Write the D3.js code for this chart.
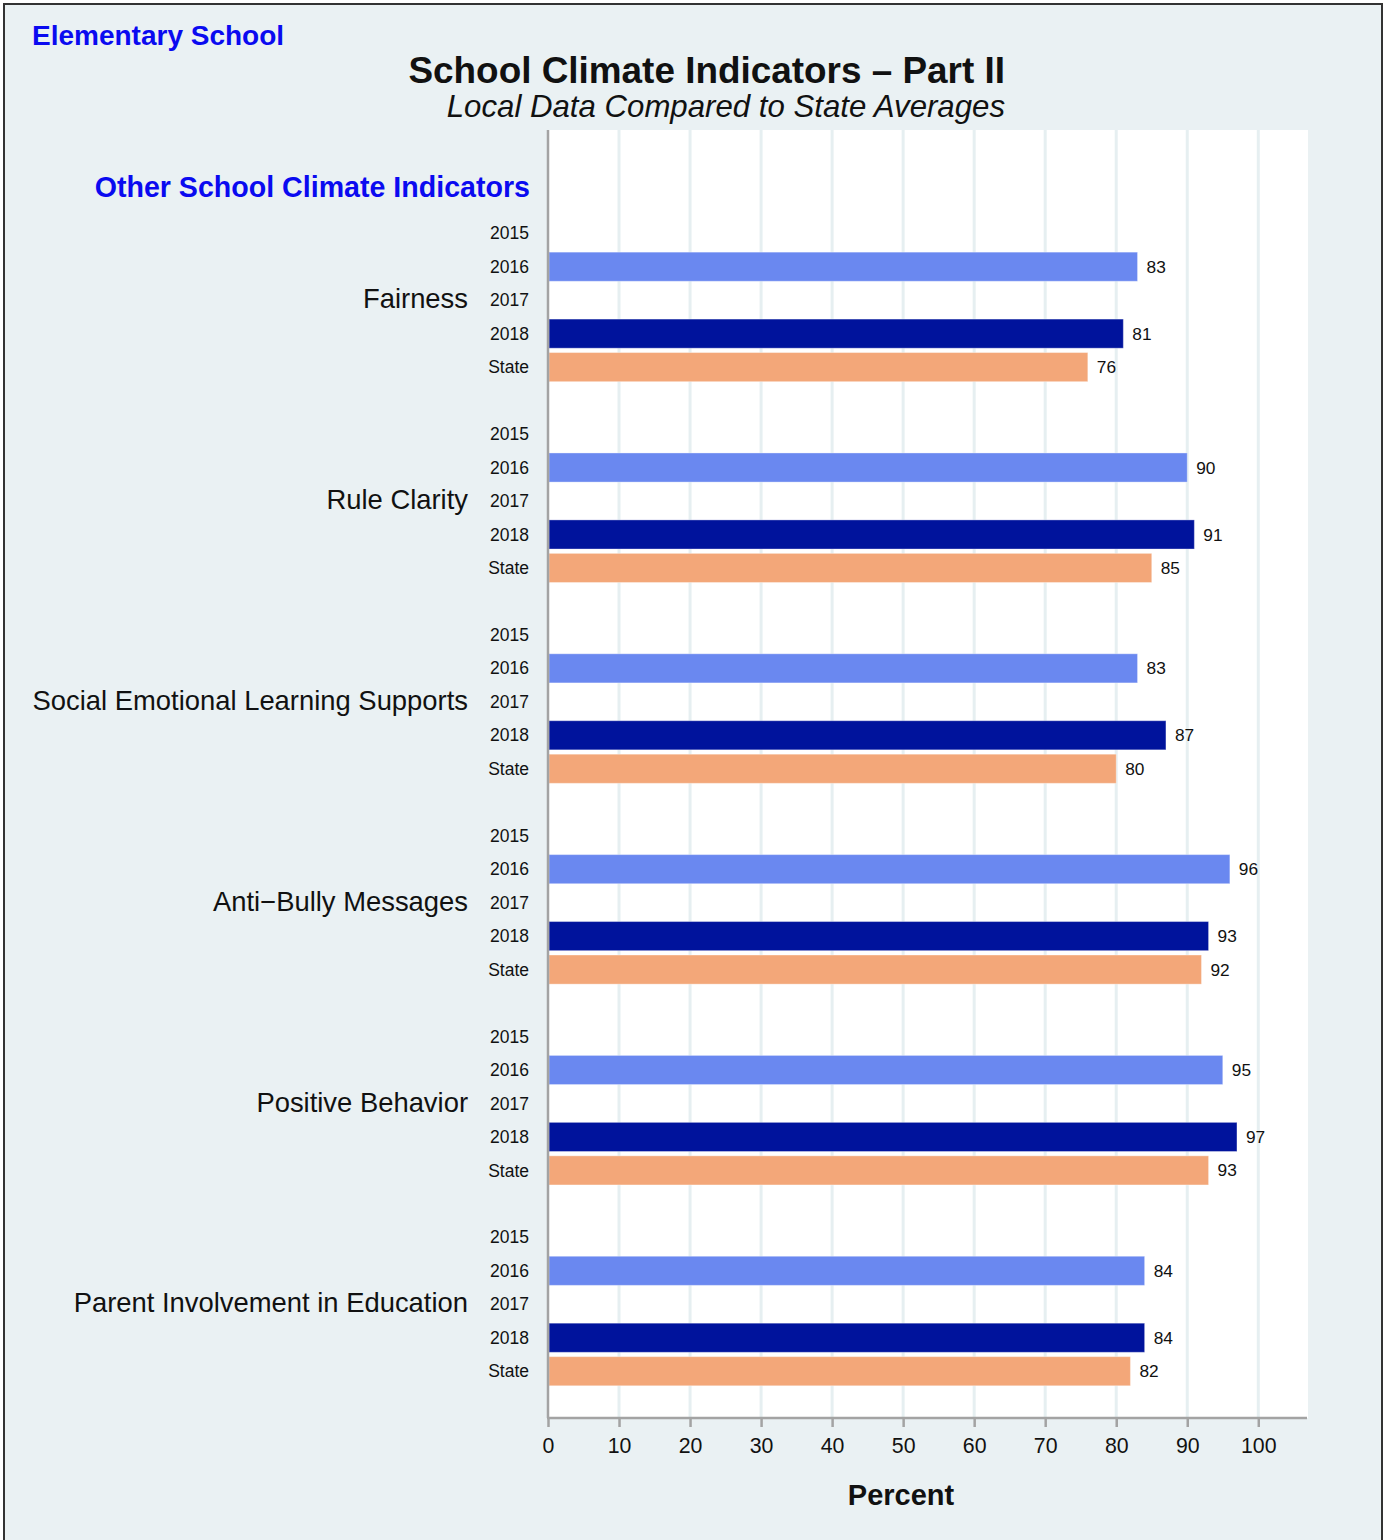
<!DOCTYPE html>
<html>
<head>
<meta charset="utf-8" />
<script src="https://d3js.org/d3.v7.min.js"></script>
<style>
  body { margin: 0; background: #ffffff; }
  svg text { font-family: "Liberation Sans", Arial, Helvetica, sans-serif; }
</style>
</head>
<body>
<div id="chart"></div>
<script>
// data
var indicators = ["Fairness", "Rule Clarity", "Social Emotional Learning Supports",
                  "Anti\u2212Bully Messages", "Positive Behavior", "Parent Involvement in Education"]
var rowLabels = ["2015", "2016", "2017", "2018", "State"]
var values2015 = [null, null, null, null, null, null]
var values2016 = [83, 90, 83, 96, 95, 84]
var values2017 = [null, null, null, null, null, null]
var values2018 = [81, 91, 87, 93, 97, 84]
var valuesState = [76, 85, 80, 92, 93, 82]
var xTicks = [0, 10, 20, 30, 40, 50, 60, 70, 80, 90, 100]

var colors = {"2015": "#9fb3f5", "2016": "#6a88f0", "2017": "#3350d0", "2018": "#00139c", "State": "#f3a779"}

var W = 1387, H = 1540
var plot = {left: 548, right: 1308, top: 130, bottom: 1418}

var svg = d3.select("#chart").append("svg")
  .attr("width", W).attr("height", H)

// background + frame
svg.append("rect")
  .attr("x", 4).attr("y", 4).attr("width", 1378).attr("height", H + 10)
  .attr("fill", "#eaf1f3").attr("stroke", "#333").attr("stroke-width", 2)

svg.append("rect")
  .attr("x", plot.left).attr("y", plot.top)
  .attr("width", plot.right - plot.left).attr("height", plot.bottom - plot.top)
  .attr("fill", "#ffffff")

// build rows: 5 labelled slots + 1 blank per indicator
var slots = []
var rows = []
var series = [values2015, values2016, values2017, values2018, valuesState]
indicators.forEach(function(ind, g) {
  rowLabels.forEach(function(r, k) {
    var key = g + "_" + r
    slots.push(key)
    rows.push({key: key, group: g, label: r, value: series[k][g]})
  })
  slots.push(g + "_gap")
})

var x = d3.scaleLinear()
  .domain([0, 107])
  .range([plot.left, plot.right])

var y = d3.scaleBand()
  .domain(slots)
  .range([216.5, 216.5 + 33.47 * slots.length])
  .paddingInner(0.13)
  .paddingOuter(0.065)

// grid
svg.append("g")
  .selectAll("line")
  .data(xTicks.slice(1))
  .enter().append("line")
  .attr("x1", function(d) { return x(d) }).attr("x2", function(d) { return x(d) })
  .attr("y1", plot.top).attr("y2", plot.bottom)
  .attr("stroke", "#e6eff1").attr("stroke-width", 3)

// bars
var bars = rows.filter(function(d) { return d.value != null })
svg.append("g")
  .selectAll("rect")
  .data(bars)
  .enter().append("rect")
  .attr("x", x(0) + 1)
  .attr("y", function(d) { return y(d.key) })
  .attr("width", function(d) { return x(d.value) - x(0) - 1 })
  .attr("height", y.bandwidth())
  .attr("fill", function(d) { return colors[d.label] })
  .attr("stroke", "rgba(255,255,255,0.35)")
  .attr("stroke-width", 1)

svg.append("g")
  .selectAll("text")
  .data(bars)
  .enter().append("text")
  .attr("x", function(d) { return x(d.value) + 9 })
  .attr("y", function(d) { return y(d.key) + y.bandwidth() / 2 })
  .attr("dy", "0.35em")
  .style("font-size", "17.3px")
  .style("fill", "#111")
  .text(function(d) { return d.value })

// row labels (years)
svg.append("g")
  .selectAll("text")
  .data(rows)
  .enter().append("text")
  .attr("x", 529)
  .attr("y", function(d) { return y(d.key) + y.bandwidth() / 2 })
  .attr("dy", "0.35em")
  .attr("text-anchor", "end")
  .style("font-size", "17.5px")
  .style("fill", "#111")
  .text(function(d) { return d.label })

// indicator labels, centred on the 2017 row
svg.append("g")
  .selectAll("text")
  .data(indicators)
  .enter().append("text")
  .attr("x", 468)
  .attr("y", function(d, i) { return y(i + "_2017") + y.bandwidth() / 2 })
  .attr("dy", "0.3em")
  .attr("text-anchor", "end")
  .style("font-size", "27.4px")
  .style("fill", "#111")
  .text(function(d) { return d })

// axes
var axisColor = "#a3a3a3"
svg.append("line")
  .attr("x1", plot.left).attr("x2", plot.left)
  .attr("y1", plot.top).attr("y2", plot.bottom)
  .attr("stroke", axisColor).attr("stroke-width", 2.5)

var xAxis = svg.append("g")
  .attr("transform", "translate(0," + plot.bottom + ")")
  .call(d3.axisBottom(x).tickValues(xTicks).tickSize(9).tickPadding(11))
xAxis.select(".domain").remove()
xAxis.append("line")
  .attr("x1", plot.left - 1).attr("x2", plot.right - 1)
  .attr("stroke", axisColor).attr("stroke-width", 2.5)
xAxis.selectAll(".tick line").attr("stroke", axisColor).attr("stroke-width", 2.5)
xAxis.selectAll(".tick text")
  .style("font-size", "21.3px")
  .style("font-family", "'Liberation Sans', Arial, sans-serif")
  .style("fill", "#111")

svg.append("text")
  .attr("x", 901).attr("y", 1495).attr("dy", "0.35em")
  .attr("text-anchor", "middle")
  .style("font-size", "29px").style("font-weight", "bold").style("fill", "#111")
  .text("Percent")

// titles
svg.append("text")
  .attr("x", 32).attr("y", 35).attr("dy", "0.35em")
  .style("font-size", "28px").style("font-weight", "bold").style("fill", "#0a0af0")
  .text("Elementary School")

svg.append("text")
  .attr("x", 1005).attr("y", 70).attr("dy", "0.35em")
  .attr("text-anchor", "end")
  .style("font-size", "36.9px").style("font-weight", "bold").style("fill", "#111")
  .text("School Climate Indicators \u2013 Part II")

svg.append("text")
  .attr("x", 1005).attr("y", 106).attr("dy", "0.35em")
  .attr("text-anchor", "end")
  .style("font-size", "31.2px").style("font-style", "italic").style("fill", "#111")
  .text("Local Data Compared to State Averages")

svg.append("text")
  .attr("x", 530).attr("y", 187).attr("dy", "0.35em")
  .attr("text-anchor", "end")
  .style("font-size", "28.6px").style("font-weight", "bold").style("fill", "#0a0af0")
  .text("Other School Climate Indicators")
</script>
</body>
</html>
